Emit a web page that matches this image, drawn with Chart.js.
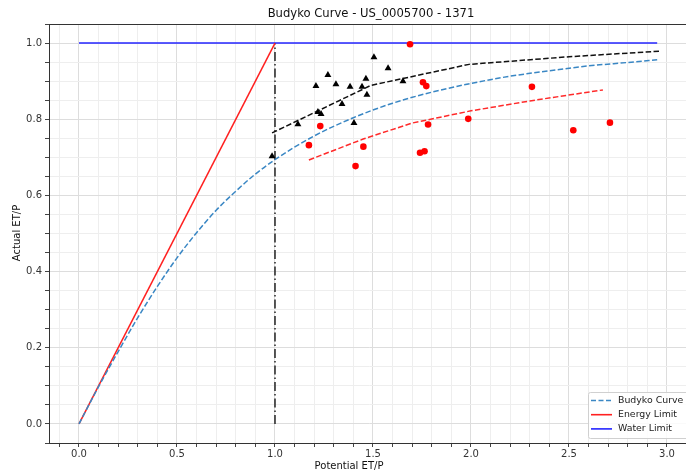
<!DOCTYPE html>
<html lang="en">
<head>
  <meta charset="UTF-8" />
  <title>Budyko Curve</title>
  <script src="https://cdn.jsdelivr.net/npm/chart.js"></script>
  <style>
    body { margin: 0; background: #fff; overflow: hidden; }
    .wrap { position: absolute; left: 0; top: 0; width: 700px; height: 475px; }
  </style>
</head>
<body>
  <div class="wrap"><canvas id="budyko"></canvas></div>

  <script>
    // Budyko curve
    const budykoX = [0, 0.1, 0.2, 0.3, 0.4, 0.5, 0.6, 0.7, 0.8, 0.9, 1.0, 1.2, 1.4, 1.6, 1.8, 2.0, 2.2, 2.4, 2.6, 2.8, 2.95];
    const budykoY = [0, 0.098, 0.190, 0.279, 0.361, 0.436, 0.502, 0.561, 0.611, 0.656, 0.694, 0.756, 0.804, 0.842, 0.871, 0.894, 0.913, 0.927, 0.940, 0.949, 0.956];

    // limits
    const energyX = [0, 1];
    const energyY = [0, 1];
    const waterX = [0, 2.95];
    const waterY = [1, 1];
    const splitX = [1, 1];
    const splitY = [0, 1];

    // black triangles + fit
    const triX = [0.985, 1.117, 1.209, 1.219, 1.235, 1.270, 1.311, 1.342, 1.383, 1.403, 1.444, 1.464, 1.469, 1.505, 1.577, 1.653];
    const triY = [0.703, 0.787, 0.887, 0.819, 0.814, 0.916, 0.892, 0.840, 0.885, 0.790, 0.885, 0.906, 0.864, 0.963, 0.934, 0.900];
    const triFitX = [0.985, 1.49, 1.99, 2.5, 2.97];
    const triFitY = [0.764, 0.889, 0.944, 0.964, 0.979];

    // red dots + fit
    const dotX = [1.689, 1.173, 1.231, 1.411, 1.451, 1.740, 1.763, 1.755, 1.772, 1.781, 1.986, 2.311, 2.522, 2.709];
    const dotY = [0.997, 0.732, 0.782, 0.677, 0.728, 0.712, 0.716, 0.897, 0.887, 0.786, 0.801, 0.885, 0.771, 0.791];
    const dotFitX = [1.173, 1.45, 1.70, 2.0, 2.3, 2.673];
    const dotFitY = [0.693, 0.748, 0.790, 0.822, 0.848, 0.877];

    // axis ticks
    const xMajor = [0, 0.5, 1.0, 1.5, 2.0, 2.5, 3.0];
    const yMajor = [0, 0.2, 0.4, 0.6, 0.8, 1.0];

    const legendItems = [
      { text: "Budyko Curve", color: "#3a87c4", dash: [5, 2.5] },
      { text: "Energy Limit", color: "#ff2020", dash: [] },
      { text: "Water Limit", color: "#2424ff", dash: [] }
    ];

    const FONT = "'DejaVu Sans', sans-serif";

    const pts = (xs, ys) => xs.map((x, i) => ({ x: x, y: ys[i] }));
    const isMajor = (v, list) => list.some(m => Math.abs(v - m) < 1e-6);

    function stepTicks(from, to, step) {
      const out = [];
      const n = Math.round((to - from) / step);
      for (let i = 0; i <= n; i++) out.push({ value: +(from + i * step).toFixed(4) });
      return out;
    }

    const decorPlugin = {
      id: 'decor',
      afterDraw(chart) {
        const { ctx, chartArea: a } = chart;
        ctx.save();
        // frame
        ctx.strokeStyle = "#333";
        ctx.lineWidth = 1;
        ctx.strokeRect(a.left + 0.5, a.top + 0.5, a.right - a.left, a.bottom - a.top);

        // title and axis labels
        ctx.fillStyle = "#111";
        ctx.textAlign = "center";
        ctx.textBaseline = "middle";
        ctx.font = "11.6px " + FONT;
        ctx.fillText("Budyko Curve - US_0005700 - 1371", 371, 14);
        ctx.font = "10px " + FONT;
        ctx.fillText("Potential ET/P", 349, 466);
        ctx.save();
        ctx.translate(17, 233);
        ctx.rotate(-Math.PI / 2);
        ctx.fillText("Actual ET/P", 0, 0);
        ctx.restore();

        // legend box, lower right (runs past the right edge like the source)
        const bx = 588, by = 392, bw = 110, bh = 46;
        ctx.fillStyle = "rgba(255,255,255,0.85)";
        ctx.strokeStyle = "#d0d0d0";
        ctx.beginPath();
        ctx.roundRect(bx + 0.5, by + 0.5, bw, bh, 2);
        ctx.fill();
        ctx.stroke();
        ctx.textAlign = "left";
        ctx.font = "9.4px " + FONT;
        legendItems.forEach((it, i) => {
          const y = by + 8.5 + i * 14.2;
          ctx.strokeStyle = it.color;
          ctx.lineWidth = 1.6;
          ctx.setLineDash(it.dash);
          ctx.beginPath();
          ctx.moveTo(591, y);
          ctx.lineTo(612, y);
          ctx.stroke();
          ctx.setLineDash([]);
          ctx.fillStyle = "#222";
          ctx.fillText(it.text, 618, y);
        });
        ctx.restore();
      }
    };

    function line(data, color, width, dash) {
      return {
        data: data,
        showLine: true,
        borderColor: color,
        borderWidth: width,
        borderDash: dash,
        pointRadius: 0,
        fill: false,
        tension: 0
      };
    }

    window.onload = () => {
      const budyko = line(pts(budykoX, budykoY), "#3a87c4", 1.5, [5.5, 2.4]);
      budyko.cubicInterpolationMode = 'monotone';

      new Chart(document.getElementById("budyko"), {
        type: "scatter",
        data: {
          datasets: [
            {
              data: pts(triX, triY),
              pointStyle: 'triangle',
              pointRadius: 4,
              backgroundColor: "#000",
              borderColor: "#000",
              borderWidth: 0
            },
            {
              data: pts(dotX, dotY),
              pointStyle: 'circle',
              pointRadius: 3.3,
              backgroundColor: "#ff0000",
              borderColor: "#ff0000",
              borderWidth: 0
            },
            line(pts(triFitX, triFitY), "#111", 1.5, [5.5, 2.4]),
            line(pts(dotFitX, dotFitY), "#ff2a2a", 1.5, [5.5, 2.4]),
            budyko,
            line(pts(energyX, energyY), "#ff2020", 1.5, []),
            line(pts(waterX, waterY), "#2424ff", 1.5, []),
            line(pts(splitX, splitY), "#222", 1.5, [9, 3, 1.5, 3])
          ]
        },
        options: {
          responsive: true,
          maintainAspectRatio: false,
          animation: false,
          layout: { padding: { top: 24, right: 9.5, bottom: 0, left: 0 } },
          plugins: {
            legend: { display: false },
            tooltip: { enabled: false },
            title: { display: false }
          },
          scales: {
            x: {
              type: 'linear',
              min: -0.153,
              max: 3.12,
              afterBuildTicks: s => { s.ticks = stepTicks(-0.1, 3.1, 0.1); },
              afterFit: s => { s.height = 32; },
              border: { display: false },
              grid: {
                color: c => isMajor(c.tick.value, xMajor) ? "#dddddd" : "#eeeeee",
                tickColor: "#444",
                tickLength: 4,
                drawTicks: true
              },
              ticks: {
                autoSkip: false,
                maxRotation: 0,
                padding: 1,
                color: "#333",
                font: { family: FONT, size: 10 },
                callback: v => isMajor(v, xMajor) ? v.toFixed(1) : ''
              }
            },
            y: {
              type: 'linear',
              min: -0.05,
              max: 1.05,
              afterBuildTicks: s => { s.ticks = stepTicks(-0.05, 1.05, 0.05); },
              afterFit: s => { s.width = 49; },
              border: { display: false },
              grid: {
                color: c => isMajor(c.tick.value, yMajor) ? "#dddddd" : "#eeeeee",
                tickColor: "#444",
                tickLength: 4,
                drawTicks: true
              },
              ticks: {
                autoSkip: false,
                padding: 3,
                color: "#333",
                font: { family: FONT, size: 10 },
                callback: v => isMajor(v, yMajor) ? v.toFixed(1) : ''
              }
            }
          }
        },
        plugins: [decorPlugin]
      });
    };
  </script>
</body>
</html>
